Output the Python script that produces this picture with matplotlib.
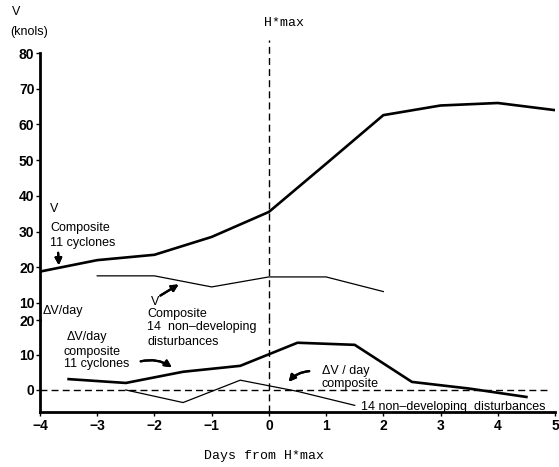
import numpy as np
import matplotlib
matplotlib.use("Agg")
import matplotlib.pyplot as plt

plt.rcParams['font.family'] = ['Liberation Sans', 'DejaVu Sans']

# V composite, 11 cyclones (daily)
days_v = [-4, -3, -2, -1, 0, 1, 2, 3, 4, 5]
v_cyclones = [18.8, 22.0, 23.5, 28.5, 35.5, 49.0, 62.6, 65.3, 66.0, 64.0]

# V composite, 14 non-developing disturbances
days_vn = [-3, -2, -1, 0, 1, 2]
v_nondev = [17.6, 17.6, 14.5, 17.3, 17.3, 13.2]

# dV/day composite, 11 cyclones (half days)
days_dv = [-3.5, -2.5, -1.5, -0.5, 0.5, 1.5, 2.5, 3.5, 4.5]
dv_cyclones = [3.1, 2.0, 5.2, 6.9, 13.5, 12.9, 2.3, 0.4, -2.0]

# dV/day composite, 14 non-developing disturbances
days_dvn = [-2.5, -1.5, -0.5, 0.5, 1.5]
dv_nondev = [0.0, -3.6, 2.8, -0.4, -4.4]

x_ticks = [-4, -3, -2, -1, 0, 1, 2, 3, 4, 5]
v_ticks = [10, 20, 30, 40, 50, 60, 70, 80]
dv_ticks = [0, 10, 20]

W, H = 559, 467
fig = plt.figure(figsize=(W / 100, H / 100), dpi=100)

def fp(px, py):
    # top-left pixel -> figure fraction
    return px / W, 1 - py / H

ax_top = fig.add_axes([40 / W, (H - 320) / H, 515 / W, 267 / H])
ax_bot = fig.add_axes([40 / W, (H - 412) / H, 515 / W, 92 / H])

for ax in (ax_top, ax_bot):
    ax.set_xlim(-4, 5)
    ax.patch.set_alpha(0)
    for s in ('top', 'right'):
        ax.spines[s].set_visible(False)
    ax.spines['left'].set_linewidth(2)
    ax.tick_params(axis='y', direction='out', length=3, width=1, pad=1,
                   labelsize=10)

ax_top.set_ylim(5.24, 80)
ax_top.spines['bottom'].set_visible(False)
ax_top.set_xticks([])
ax_top.set_yticks(v_ticks)
ax_top.set_yticklabels([str(t) for t in v_ticks], fontweight='bold')

ax_bot.set_ylim(-6.3, 20)
ax_bot.spines['bottom'].set_linewidth(2)
ax_bot.set_yticks(dv_ticks)
ax_bot.set_yticklabels([str(t) for t in dv_ticks], fontweight='bold')
ax_bot.set_xticks(x_ticks)
ax_bot.set_xticklabels(['\u2212' + str(-t) if t < 0 else str(t) for t in x_ticks],
                       fontweight='bold')
ax_bot.tick_params(axis='x', direction='out', length=3, width=1, pad=2,
                   labelsize=10)

# curves
ax_top.plot(days_v, v_cyclones, color='black', lw=1.9)
ax_top.plot(days_vn, v_nondev, color='black', lw=0.9)
ax_bot.plot(days_dv, dv_cyclones, color='black', lw=1.9)
ax_bot.plot(days_dvn, dv_nondev, color='black', lw=0.9)

# reference lines
ax_bot.axhline(0, xmin=0, xmax=0.985, color='black', lw=1, ls=(0, (5, 3)))
ax_bot.axvline(0, color='black', lw=1, ls=(0, (5, 3)))
ax_top.axvline(0, ymin=0, ymax=(320 - 40) / 267, color='black', lw=1,
               ls=(0, (5, 3)), clip_on=False)

# labels outside axes
fig.text(*fp(12, 12), 'V', fontsize=9, va='center', ha='left')
fig.text(*fp(10, 32), '(knols)', fontsize=9, va='center', ha='left')
fig.text(*fp(284, 23), 'H*max', fontsize=9.5, va='center', ha='center',
         family='Liberation Mono')
fig.text(*fp(264, 456), 'Days from H*max', fontsize=9.5, va='center',
         ha='center', family='Liberation Mono')

# annotations
fs = 9
arrow = dict(arrowstyle='-|>', lw=1.6, color='black', mutation_scale=10)

fig.text(*fp(50, 209), 'V', fontsize=fs, va='center')
fig.text(*fp(50, 228), 'Composite', fontsize=fs, va='center')
fig.text(*fp(50, 243), '11 cyclones', fontsize=fs, va='center')
fig.add_artist(plt.annotate('', xy=fp(59, 268), xytext=fp(58, 250),
                            xycoords='figure fraction', arrowprops=arrow))

fig.text(*fp(151, 302), 'V', fontsize=fs, va='center')
fig.text(*fp(147, 314), 'Composite', fontsize=fs, va='center')
fig.text(*fp(147, 327), '14  non\u2013developing', fontsize=fs, va='center')
fig.text(*fp(147, 342), 'disturbances', fontsize=fs, va='center')
fig.add_artist(plt.annotate('', xy=fp(181, 283), xytext=fp(158, 297),
                            xycoords='figure fraction', arrowprops=arrow))

fig.text(*fp(43, 311), '\u0394V/day', fontsize=fs, va='center')
fig.text(*fp(67, 337), '\u0394V/day', fontsize=fs, va='center')
fig.text(*fp(64, 352), 'composite', fontsize=fs, va='center')
fig.text(*fp(64, 364), '11 cyclones', fontsize=fs, va='center')
fig.add_artist(plt.annotate('', xy=fp(174, 369), xytext=fp(138, 362),
                            xycoords='figure fraction',
                            arrowprops=dict(arrow, connectionstyle='arc3,rad=-0.25')))

fig.text(*fp(322, 371), '\u0394V / day', fontsize=fs, va='center')
fig.text(*fp(322, 384), 'composite', fontsize=fs, va='center')
fig.add_artist(plt.annotate('', xy=fp(287, 384), xytext=fp(312, 371),
                            xycoords='figure fraction',
                            arrowprops=dict(arrow, connectionstyle='arc3,rad=0.25')))

fig.text(*fp(361, 407), '14 non\u2013developing  disturbances', fontsize=fs,
         va='center')

fig.savefig('out.png', dpi=100)
